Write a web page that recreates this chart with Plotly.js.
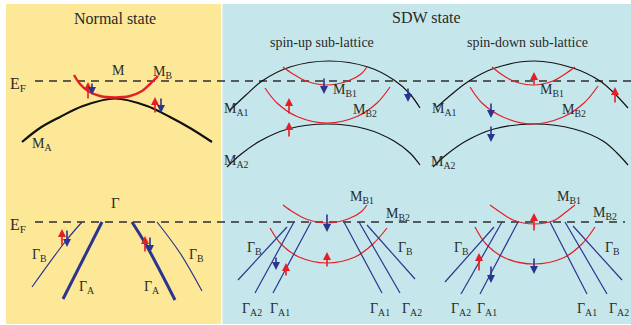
<!DOCTYPE html>
<html><head><meta charset="utf-8">
<script src="https://cdn.plot.ly/plotly-3.0.1.min.js"></script>
<style>html,body{margin:0;padding:0;background:#fff}#plot{width:631px;height:325px}</style>
</head><body><div id="plot"></div>
<script>
// ---- Fermi level lines (y position, x start, x end) ----
const efTopX = [35, 631];   const efTopY = [81, 81];
const efBotX = [35, 625];   const efBotY = [222, 222];

// ---- Normal state, M point ----
const nMAx = [22, 40, 60, 83, 115, 147, 170, 190, 212];
const nMAy = [142, 128, 117, 106, 98.5, 106, 117, 128, 142];
const nMBx = [74, 80, 88, 100, 115, 130, 142, 150, 158];
const nMBy = [75, 84, 91, 96, 97.5, 96, 91, 84, 76];

// ---- Normal state, Gamma point ----
const nGAlx = [102, 83, 63];        const nGAly = [222, 259, 299];
const nGArx = [132, 145, 157, 175]; const nGAry = [222, 243, 265, 300];
const nGBlx = [82, 65, 32];         const nGBly = [222, 242, 287];
const nGBrx = [157, 180, 202];      const nGBry = [222, 253, 291];

// ---- SDW spin-up, M ----
const uMA1x = [230, 246, 262, 290, 329, 368, 394, 410, 420];
const uMA1y = [110, 95, 81, 67, 61, 67, 80, 94, 108];
const uMA2x = [227, 240, 260, 288, 327, 366, 394, 410, 420];
const uMA2y = [167, 155, 141, 129, 124, 129, 141, 153, 165];
const uMB1x = [283, 293, 306, 327, 348, 361, 367];
const uMB1y = [67, 74, 81, 85, 81, 74, 67];
const uMB2x = [265, 277, 297, 327, 357, 377, 390];
const uMB2y = [88, 103, 116.5, 123, 116.5, 103, 87];

// ---- SDW spin-down, M ----
const dMA1x = [437, 452, 469, 495, 534, 573, 600, 615, 628];
const dMA1y = [107, 94, 81, 68, 61, 68, 81, 94, 108];
const dMA2x = [433, 446, 466, 494, 535, 574, 603, 617, 628];
const dMA2y = [167, 155, 141, 129, 124, 129, 141, 153, 165];
const dMB1x = [492, 501, 513, 533, 553, 565, 575];
const dMB1y = [67, 74, 81, 85, 81, 74, 67];
const dMB2x = [470, 482, 503, 533, 563, 584, 598];
const dMB2y = [87, 103, 117, 124, 117, 103, 86];

// ---- SDW spin-up, Gamma ----
const uGMB1x = [283, 293, 306, 327, 348, 361, 367];
const uGMB1y = [205, 212, 219, 223, 219, 212, 205];
const uGMB2x = [270, 281, 299, 327, 355, 373, 387];
const uGMB2y = [228, 244, 257, 263, 257, 244, 228];
const uGlinesX0 = [287, 294, 311, 344, 359, 367];
const uGlinesY0 = [227, 222, 222, 222, 222, 225];
const uGlinesX1 = [238, 255, 273, 382, 400, 415];
const uGlinesY1 = [280, 293, 293, 293, 293, 279];

// ---- SDW spin-down, Gamma ----
const dGMB1x = [490, 500, 513, 534, 555, 566, 575];
const dGMB1y = [205, 212, 220, 224, 220, 212, 205];
const dGMB2x = [475, 486, 505, 534, 563, 582, 595];
const dGMB2y = [227, 244, 258, 264, 258, 244, 227];
const dGlinesX0 = [494, 502, 518, 550, 565, 573];
const dGlinesY0 = [227, 222, 222, 222, 222, 226];
const dGlinesX1 = [445, 461, 480, 587, 607, 622];
const dGlinesY1 = [282, 294, 294, 294, 294, 280];

// ---- spin arrows: x, tail y, head y, spin ----
const arrX    = [88, 92, 155, 161, 62, 67, 145, 150, 324, 289, 289, 408, 534, 615, 491, 491, 327, 327, 276, 286, 534, 534, 479, 491];
const arrTail = [100, 82, 114, 97, 247, 229, 253, 236, 77, 115, 138, 87, 86, 104, 102, 125, 213, 268, 256, 277, 232, 257, 272, 265];
const arrHead = [82, 95, 97, 113, 229, 247, 236, 253, 94, 98, 122, 102, 72, 87, 118, 142, 232, 252, 270, 263, 213, 274, 253, 283];
const arrSpin = ['u','d','u','d','u','d','u','d','d','u','u','d','u','u','d','d','d','u','d','u','u','d','u','d'];

// ---- text labels ----
const lblText = ['Normal state', 'SDW state', 'spin-up sub-lattice', 'spin-down sub-lattice',
  'E<sub>F</sub>', 'E<sub>F</sub>', 'M', 'M<sub>B</sub>', 'M<sub>A</sub>', 'Γ',
  'Γ<sub>B</sub>', 'Γ<sub>A</sub>', 'Γ<sub>A</sub>', 'Γ<sub>B</sub>',
  'M<sub>A1</sub>', 'M<sub>A2</sub>', 'M<sub>B1</sub>', 'M<sub>B2</sub>',
  'M<sub>A1</sub>', 'M<sub>A2</sub>', 'M<sub>B1</sub>', 'M<sub>B2</sub>',
  'M<sub>B1</sub>', 'M<sub>B2</sub>', 'Γ<sub>B</sub>', 'Γ<sub>B</sub>', 'Γ<sub>A2</sub>', 'Γ<sub>A1</sub>', 'Γ<sub>A1</sub>', 'Γ<sub>A2</sub>',
  'M<sub>B1</sub>', 'M<sub>B2</sub>', 'Γ<sub>B</sub>', 'Γ<sub>B</sub>', 'Γ<sub>A2</sub>', 'Γ<sub>A1</sub>', 'Γ<sub>A1</sub>', 'Γ<sub>A2</sub>'];
const lblX = [115, 426, 322, 527, 18, 18, 118, 162, 42, 115, 39, 86, 151, 196,
  236, 236, 345, 365, 444, 443, 552, 574,
  362, 398, 254, 405, 252, 280, 380, 412,
  569, 605, 461, 612, 461, 487, 587, 619];
const lblY = [18, 17, 42, 42, 84, 225, 70, 72, 144, 203, 255, 287, 287, 255,
  109, 161, 90, 110, 109, 162, 90, 110,
  197, 214, 248, 248, 309, 309, 309, 309,
  197, 213, 248, 248, 309, 309, 309, 309];
const lblSize = [16, 16, 14, 14, 16, 16, 14, 14, 14, 15, 14, 14, 14, 14,
  14,14,14,14,14,14,14,14, 14,14,14,14,14,14,14,14, 14,14,14,14,14,14,14,14];

// ---- styles ----
const BLACK = '#111111', RED = '#e41e26', NAVY = '#2b3590', TXT = '#2a2a2a';
const traces = [];
function line(x, y, color, width, shape, dash) {
  traces.push({x: x, y: y, type: 'scatter', mode: 'lines', hoverinfo: 'skip',
    line: {color: color, width: width, shape: shape || 'spline', smoothing: 1, dash: dash || 'solid'}});
}
line(efTopX, efTopY, '#2e2e2e', 1.3, 'linear', '8px,6px');
line(efBotX, efBotY, '#2e2e2e', 1.3, 'linear', '8px,6px');
line(nMAx, nMAy, BLACK, 2.2);
line(nMBx, nMBy, RED, 2.4);
line(nGAlx, nGAly, NAVY, 3, 'linear');
line(nGArx, nGAry, NAVY, 3);
line(nGBlx, nGBly, NAVY, 1.2);
line(nGBrx, nGBry, NAVY, 1.2);
line(uMA1x, uMA1y, BLACK, 1.2); line(uMA2x, uMA2y, BLACK, 1.2);
line(uMB1x, uMB1y, RED, 1.2);   line(uMB2x, uMB2y, RED, 1.2);
line(dMA1x, dMA1y, BLACK, 1.2); line(dMA2x, dMA2y, BLACK, 1.2);
line(dMB1x, dMB1y, RED, 1.2);   line(dMB2x, dMB2y, RED, 1.2);
line(uGMB1x, uGMB1y, RED, 1.2); line(uGMB2x, uGMB2y, RED, 1.2);
line(dGMB1x, dGMB1y, RED, 1.2); line(dGMB2x, dGMB2y, RED, 1.2);
for (let i = 0; i < uGlinesX0.length; i++) line([uGlinesX0[i], uGlinesX1[i]], [uGlinesY0[i], uGlinesY1[i]], NAVY, 1.2, 'linear');
for (let i = 0; i < dGlinesX0.length; i++) line([dGlinesX0[i], dGlinesX1[i]], [dGlinesY0[i], dGlinesY1[i]], NAVY, 1.2, 'linear');

const annotations = [];
for (let i = 0; i < arrX.length; i++) {
  annotations.push({x: arrX[i], y: arrHead[i], ax: arrX[i], ay: arrTail[i], xref: 'x', yref: 'y', axref: 'x', ayref: 'y',
    text: '', showarrow: true, arrowhead: 2, arrowsize: 1.0, arrowwidth: 1.6, standoff: 0, startstandoff: 0,
    arrowcolor: arrSpin[i] === 'u' ? RED : NAVY});
}
for (let i = 0; i < lblText.length; i++) {
  annotations.push({x: lblX[i], y: lblY[i], xref: 'x', yref: 'y', text: lblText[i], showarrow: false,
    xanchor: 'center', yanchor: 'middle',
    font: {family: 'Liberation Serif, Times New Roman, serif', size: lblSize[i], color: TXT}});
}

const layout = {
  width: 631, height: 325, margin: {l: 0, r: 0, t: 0, b: 0, pad: 0},
  paper_bgcolor: '#ffffff', plot_bgcolor: '#ffffff', showlegend: false,
  xaxis: {range: [0, 631], visible: false, fixedrange: true},
  yaxis: {range: [325, 0], visible: false, fixedrange: true},
  shapes: [
    {type: 'rect', xref: 'x', yref: 'y', x0: 6, x1: 221, y0: 4, y1: 324, fillcolor: '#fce896', line: {width: 0}, layer: 'below'},
    {type: 'rect', xref: 'x', yref: 'y', x0: 222.5, x1: 631, y0: 4, y1: 324, fillcolor: '#c5e7eb', line: {width: 0}, layer: 'below'}
  ],
  annotations: annotations
};
Plotly.newPlot('plot', traces, layout, {staticPlot: true, displayModeBar: false});
</script></body></html>
